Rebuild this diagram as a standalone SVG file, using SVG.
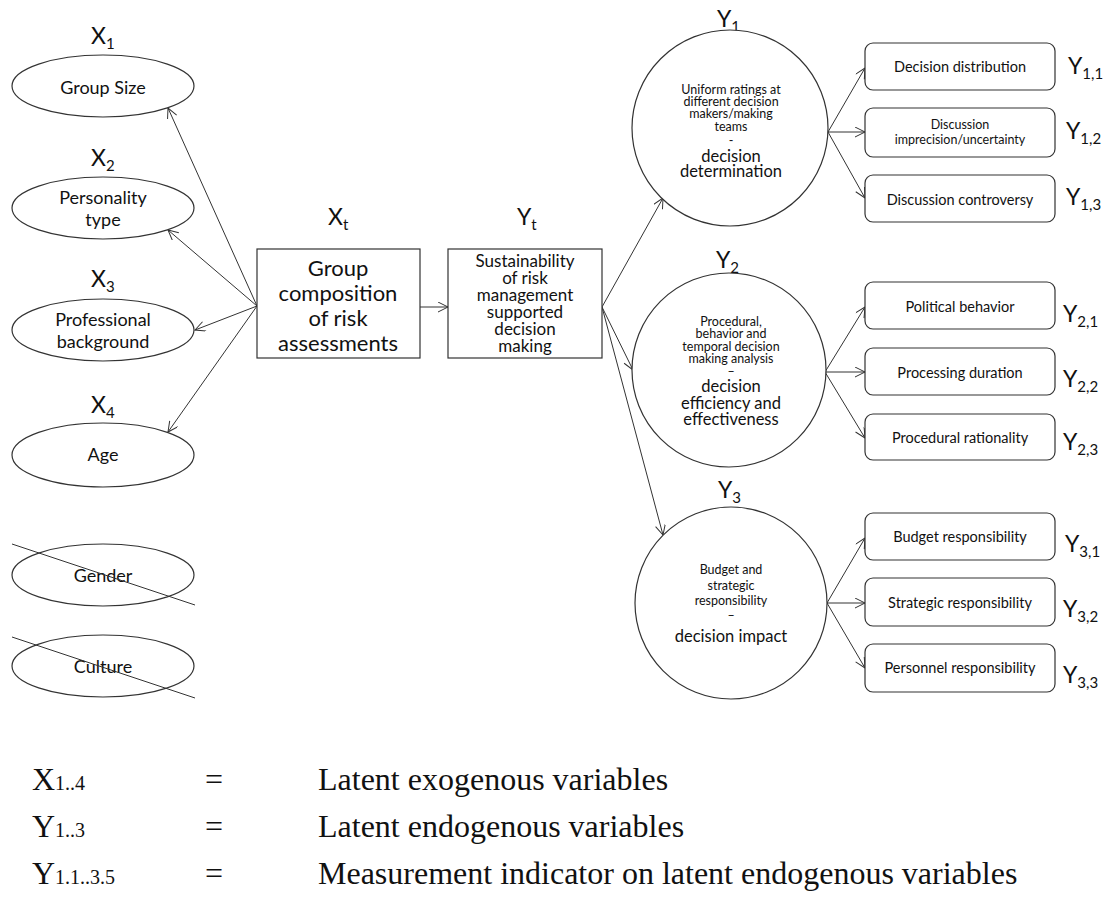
<svg xmlns="http://www.w3.org/2000/svg" width="1111" height="903" viewBox="0 0 1111 903">
<defs>
<marker id="arr" markerUnits="userSpaceOnUse" markerWidth="14" markerHeight="12" refX="11" refY="5" orient="auto">
<path d="M1,0 L11,5 L1,10" fill="none" stroke="#333" stroke-width="1"/>
</marker>
<style>
.sh{fill:#fff;stroke:#333;stroke-width:1.2}
.ln{stroke:#333;stroke-width:1;fill:none}
.cn{stroke:#333;stroke-width:1;fill:none;marker-end:url(#arr)}
text{font-family:Lato,"Liberation Sans",sans-serif;fill:#111}
.lab{font-size:23px}
.sub{font-size:15px}
.el{font-size:18px;text-anchor:middle}
.bx{font-size:22px;text-anchor:middle}
.bx2{font-size:17px;text-anchor:middle}
.cs{font-size:12.5px;text-anchor:middle}
.cb{font-size:16.5px;text-anchor:middle}
.ind{font-size:14.5px;text-anchor:middle}
.ind2{font-size:12.5px;text-anchor:middle}
.lg{font-family:"Liberation Serif",serif;font-size:32px}
.lgs{font-family:"Liberation Serif",serif;font-size:20px}
</style>
</defs>
<rect width="1111" height="903" fill="#fff"/>

<g id="connectors">
<line class="cn" x1="257" y1="306" x2="168" y2="108"/>
<line class="cn" x1="257" y1="306" x2="168" y2="230"/>
<line class="cn" x1="257" y1="306" x2="195" y2="330"/>
<line class="cn" x1="257" y1="306" x2="168" y2="432"/>
<line class="cn" x1="420" y1="307" x2="448" y2="307"/>
<line class="cn" x1="602" y1="307" x2="663" y2="198"/>
<line class="cn" x1="602" y1="307" x2="633" y2="370"/>
<line class="cn" x1="602" y1="307" x2="663" y2="535"/>
<line class="cn" x1="828" y1="132" x2="865" y2="68"/>
<line class="cn" x1="828" y1="132" x2="865" y2="132"/>
<line class="cn" x1="828" y1="132" x2="865" y2="198"/>
<line class="cn" x1="825" y1="372" x2="865" y2="307"/>
<line class="cn" x1="825" y1="372" x2="865" y2="372"/>
<line class="cn" x1="825" y1="372" x2="865" y2="438"/>
<line class="cn" x1="827" y1="603" x2="865" y2="538"/>
<line class="cn" x1="827" y1="603" x2="865" y2="603"/>
<line class="cn" x1="827" y1="603" x2="865" y2="668"/>
</g>

<g id="x1">
<text class="lab" x="91" y="44">X<tspan class="sub" dy="5">1</tspan></text>
<ellipse class="sh" cx="103" cy="86" rx="91" ry="31"/>
<text class="el" x="103" y="94">Group Size</text>
</g>
<g id="x2">
<text class="lab" x="91" y="166">X<tspan class="sub" dy="5">2</tspan></text>
<ellipse class="sh" cx="103" cy="208" rx="91" ry="31"/>
<text class="el" x="103" y="204">Personality</text>
<text class="el" x="103" y="226">type</text>
</g>
<g id="x3">
<text class="lab" x="91" y="287">X<tspan class="sub" dy="5">3</tspan></text>
<ellipse class="sh" cx="103" cy="330" rx="91" ry="31"/>
<text class="el" x="103" y="326">Professional</text>
<text class="el" x="103" y="348">background</text>
</g>
<g id="x4">
<text class="lab" x="91" y="413">X<tspan class="sub" dy="5">4</tspan></text>
<ellipse class="sh" cx="103" cy="455" rx="91" ry="32"/>
<text class="el" x="103" y="461">Age</text>
</g>
<g id="gender">
<ellipse class="sh" cx="103" cy="575" rx="91" ry="31"/>
<text class="el" x="103" y="582">Gender</text>
<line class="ln" x1="12" y1="544" x2="195" y2="605"/>
</g>
<g id="culture">
<ellipse class="sh" cx="103" cy="666" rx="91" ry="31"/>
<text class="el" x="103" y="673">Culture</text>
<line class="ln" x1="12" y1="637" x2="195" y2="698"/>
</g>

<g id="xt">
<text class="lab" x="328" y="225">X<tspan class="sub" dy="5">t</tspan></text>
<rect class="sh" x="257" y="249" width="163" height="109"/>
<text class="bx" x="338" y="276">Group</text>
<text class="bx" x="338" y="301">composition</text>
<text class="bx" x="338" y="326">of risk</text>
<text class="bx" x="338" y="351">assessments</text>
</g>
<g id="yt">
<text class="lab" x="517" y="225">Y<tspan class="sub" dy="5">t</tspan></text>
<rect class="sh" x="448" y="249" width="154" height="109"/>
<text class="bx2" x="525" y="267">Sustainability</text>
<text class="bx2" x="525" y="284">of risk</text>
<text class="bx2" x="525" y="301">management</text>
<text class="bx2" x="525" y="318">supported</text>
<text class="bx2" x="525" y="335">decision</text>
<text class="bx2" x="525" y="352">making</text>
</g>

<g id="y1">
<text class="lab" x="717" y="27">Y<tspan class="sub" dy="5">1</tspan></text>
<circle class="sh" cx="730" cy="128" r="98"/>
<text class="cs" x="731" y="94">Uniform ratings at</text>
<text class="cs" x="731" y="106">different decision</text>
<text class="cs" x="731" y="118">makers/making</text>
<text class="cs" x="731" y="131">teams</text>
<text class="cs" x="731" y="145">-</text>
<text class="cb" x="731" y="162">decision</text>
<text class="cb" x="731" y="177">determination</text>
</g>
<g id="y2">
<text class="lab" x="716" y="268">Y<tspan class="sub" dy="5">2</tspan></text>
<circle class="sh" cx="729" cy="370" r="97"/>
<text class="cs" x="731" y="326">Procedural,</text>
<text class="cs" x="731" y="338">behavior and</text>
<text class="cs" x="731" y="351">temporal decision</text>
<text class="cs" x="731" y="363">making analysis</text>
<text class="cs" x="731" y="376">–</text>
<text class="cb" x="731" y="392">decision</text>
<text class="cb" x="731" y="409">efficiency and</text>
<text class="cb" x="731" y="425">effectiveness</text>
</g>
<g id="y3">
<text class="lab" x="718" y="498">Y<tspan class="sub" dy="5">3</tspan></text>
<circle class="sh" cx="731" cy="603" r="96"/>
<text class="cs" x="731" y="574">Budget and</text>
<text class="cs" x="731" y="590">strategic</text>
<text class="cs" x="731" y="605">responsibility</text>
<text class="cs" x="731" y="620">–</text>
<text class="cb" x="731" y="642">decision impact</text>
</g>

<g id="y11">
<rect class="sh" x="865" y="43" width="190" height="47" rx="8"/>
<text class="ind" x="960" y="72">Decision distribution</text>
<text class="lab" x="1068" y="74">Y<tspan class="sub" dy="5">1,1</tspan></text>
</g>
<g id="y12">
<rect class="sh" x="865" y="108" width="190" height="49" rx="8"/>
<text class="ind2" x="960" y="129">Discussion</text>
<text class="ind2" x="960" y="144">imprecision/uncertainty</text>
<text class="lab" x="1066" y="139">Y<tspan class="sub" dy="5">1,2</tspan></text>
</g>
<g id="y13">
<rect class="sh" x="865" y="175" width="190" height="47" rx="8"/>
<text class="ind" x="960" y="205">Discussion controversy</text>
<text class="lab" x="1066" y="205">Y<tspan class="sub" dy="5">1,3</tspan></text>
</g>
<g id="y21">
<rect class="sh" x="865" y="282" width="190" height="47" rx="8"/>
<text class="ind" x="960" y="312">Political behavior</text>
<text class="lab" x="1063" y="322">Y<tspan class="sub" dy="5">2,1</tspan></text>
</g>
<g id="y22">
<rect class="sh" x="865" y="348" width="190" height="47" rx="8"/>
<text class="ind" x="960" y="378">Processing duration</text>
<text class="lab" x="1063" y="387">Y<tspan class="sub" dy="5">2,2</tspan></text>
</g>
<g id="y23">
<rect class="sh" x="865" y="414" width="190" height="46" rx="8"/>
<text class="ind" x="960" y="443">Procedural rationality</text>
<text class="lab" x="1063" y="450">Y<tspan class="sub" dy="5">2,3</tspan></text>
</g>
<g id="y31">
<rect class="sh" x="865" y="513" width="190" height="47" rx="8"/>
<text class="ind" x="960" y="542">Budget responsibility</text>
<text class="lab" x="1065" y="552">Y<tspan class="sub" dy="5">3,1</tspan></text>
</g>
<g id="y32">
<rect class="sh" x="865" y="578" width="190" height="48" rx="8"/>
<text class="ind" x="960" y="608">Strategic responsibility</text>
<text class="lab" x="1063" y="617">Y<tspan class="sub" dy="5">3,2</tspan></text>
</g>
<g id="y33">
<rect class="sh" x="865" y="644" width="190" height="48" rx="8"/>
<text class="ind" x="960" y="673">Personnel responsibility</text>
<text class="lab" x="1063" y="683">Y<tspan class="sub" dy="5">3,3</tspan></text>
</g>

<g id="legend">
<text class="lg" x="32" y="790">X<tspan class="lgs">1..4</tspan></text>
<text class="lg" x="205" y="790">=</text>
<text class="lg" x="318" y="790">Latent exogenous variables</text>
<text class="lg" x="32" y="837">Y<tspan class="lgs">1..3</tspan></text>
<text class="lg" x="205" y="837">=</text>
<text class="lg" x="318" y="837">Latent endogenous variables</text>
<text class="lg" x="32" y="884">Y<tspan class="lgs">1.1..3.5</tspan></text>
<text class="lg" x="205" y="884">=</text>
<text class="lg" x="318" y="884">Measurement indicator on latent endogenous variables</text>
</g>
</svg>
